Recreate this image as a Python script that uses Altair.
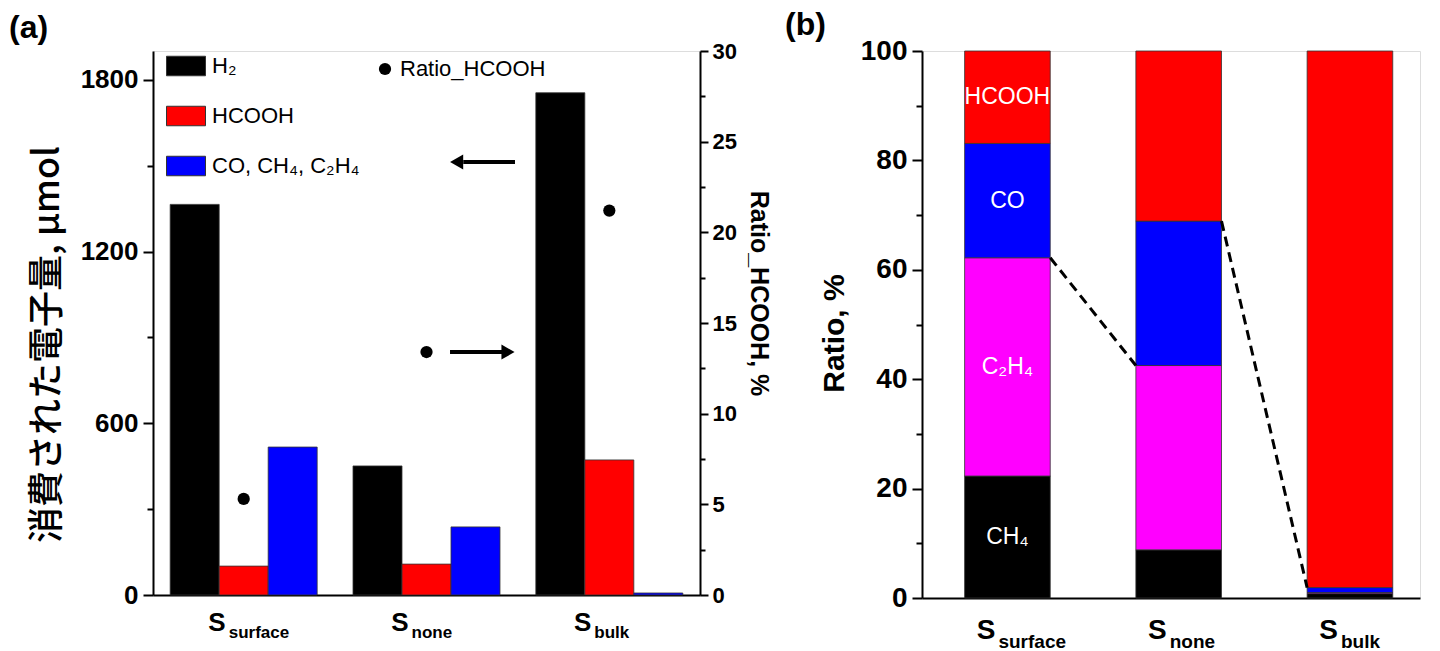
import altair as alt
import pandas as pd

# ---------------- data ----------------
samples = ["S_surface", "S_none", "S_bulk"]
subscripts = ["surface", "none", "bulk"]

series_a = ["H₂", "HCOOH", "CO, CH₄, C₂H₄"]
h2_umol = [1365, 451, 1755]
hcooh_umol = [101, 108, 472]
gas_umol = [517, 238, 7]
ratio_hcooh = [5.3, 13.4, 21.2]
ratio_label = ["Ratio_HCOOH"]

left_ticks = [0, 300, 600, 900, 1200, 1500, 1800]
right_ticks = [0, 2.5, 5, 7.5, 10, 12.5, 15, 17.5, 20, 22.5, 25, 27.5, 30]

comp_b = ["CH₄", "C₂H₄", "CO", "HCOOH"]
ch4_pct = [22.3, 8.8, 0.8]
c2h4_pct = [39.9, 33.7, 0.2]
co_pct = [20.9, 26.4, 0.9]
hcooh_pct = [16.9, 31.1, 98.1]
ratio_ticks = [0, 10, 20, 30, 40, 50, 60, 70, 80, 90, 100]

arrow_left_umol = [1513]

FONT = "Liberation Sans, Arial, sans-serif"
CJK = "Noto Sans CJK JP"
W_A, H_A = 547, 544
W_B, H_B = 498, 547

# ---------------- tables ----------------
rows = []
for i, s in enumerate(samples):
    for ser, vals in zip(series_a, [h2_umol, hcooh_umol, gas_umol]):
        rows.append({"sample": s, "series": ser, "value": vals[i]})
df_a = pd.DataFrame(rows)
df_ratio = pd.DataFrame({"sample": samples, "ratio": ratio_hcooh, "lab": ratio_label * 3})
df_sub = pd.DataFrame({"sample": samples, "sub": subscripts})
df_arrow_l = pd.DataFrame({"sample": ["S_none"], "y": arrow_left_umol})
df_arrow_r = pd.DataFrame({"sample": ["S_none"], "ratio": [ratio_hcooh[1]]})

rows = []
for i, s in enumerate(samples):
    for k, (c, vals) in enumerate(zip(comp_b, [ch4_pct, c2h4_pct, co_pct, hcooh_pct])):
        rows.append({"sample": s, "comp": c, "pct": vals[i], "order": k})
df_b = pd.DataFrame(rows)

cum = 0
lab_rows = []
for c, vals in zip(comp_b, [ch4_pct, c2h4_pct, co_pct, hcooh_pct]):
    lab_rows.append({"sample": samples[0], "comp": c, "mid": cum + vals[0] / 2})
    cum += vals[0]
df_lab = pd.DataFrame(lab_rows)

cum2 = [ch4_pct[i] + c2h4_pct[i] for i in range(3)]
cum3 = [cum2[i] + co_pct[i] for i in range(3)]
df_dash = pd.DataFrame({
    "from": [samples[0], samples[1]],
    "to": [samples[1], samples[2]],
    "y1": [cum2[0], cum3[1]],
    "y2": [cum2[1], cum3[2]],
})

# ---------------- panel (a) ----------------
x_a = alt.X(
    "sample:N", sort=samples,
    scale=alt.Scale(domain=samples, paddingInner=0.196, paddingOuter=0.094),
    axis=alt.Axis(title=None, ticks=False, labelExpr="'S'", labelFont=FONT,
                  labelFontSize=26, labelFontWeight="bold", labelAlign="right",
                  labelOffset=-18, labelPadding=14, labelAngle=0, labelColor="black",
                  domainColor="black", domainWidth=2),
)

bars_a = alt.Chart(df_a).mark_bar(stroke="#333333", strokeWidth=0.8).encode(
    x=x_a,
    xOffset=alt.XOffset("series:N", sort=series_a,
                        scale=alt.Scale(domain=series_a, paddingInner=0, paddingOuter=0)),
    y=alt.Y("value:Q", scale=alt.Scale(domain=[0, 1901], nice=False, zero=True),
            axis=alt.Axis(title="消費された電子量, μmol", values=left_ticks, format="d",
                          labelExpr="datum.value % 600 === 0 ? datum.label : ''",
                          tickSize={"condition": {"test": "datum.value % 600 === 0", "value": 10}, "value": 6},
                          tickWidth=2, tickColor="black", domainColor="black", domainWidth=2,
                          labelFont=FONT, labelFontSize=26, labelFontWeight="bold",
                          labelColor="black", labelPadding=5, labelOverlap=False, grid=False,
                          titleFont=CJK, titleFontSize=36, titleFontWeight=500,
                          titleColor="black", titleAngle=-90, titleX=-106, titleY=293,
                          titleAlign="center", titleBaseline="middle")),
    color=alt.Color("series:N", sort=series_a,
                    scale=alt.Scale(domain=series_a, range=["#000000", "#ff0000", "#0000ff"]),
                    legend=alt.Legend(title=None, orient="none", legendX=13, legendY=-5,
                                      direction="vertical",
                                      symbolType="M-1,-0.5H1V0.5H-1Z", symbolSize=1521,
                                      symbolStrokeColor="#333333", symbolStrokeWidth=1,
                                      labelFont=FONT, labelFontSize=22, labelColor="black",
                                      labelOffset=6, rowPadding=18, padding=0)),
)

sub_a = alt.Chart(df_sub).mark_text(align="left", baseline="alphabetic", dx=-15, font=FONT,
                                    fontSize=17, fontWeight="bold", color="black").encode(
    x=alt.X("sample:N", sort=samples),
    y=alt.value(H_A + 43),
    text="sub:N",
)

arrow_l_line = alt.Chart(df_arrow_l).mark_rule(strokeWidth=4, color="black", x2Offset=15).encode(
    x=alt.X("sample:N", sort=samples, bandPosition=0.75),
    x2=alt.X2("sample", bandPosition=1),
    y=alt.Y("y:Q"),
)
arrow_l_head = alt.Chart(df_arrow_l).mark_point(shape="triangle-left", filled=True, size=230,
                                                color="black", opacity=1).encode(
    x=alt.X("sample:N", sort=samples, bandPosition=0.705),
    y=alt.Y("y:Q"),
)

left_layer = alt.layer(bars_a, sub_a, arrow_l_line, arrow_l_head)

dots = alt.Chart(df_ratio).mark_point(filled=True, color="black", opacity=1, size=150).encode(
    x=alt.X("sample:N", sort=samples),
    y=alt.Y("ratio:Q", scale=alt.Scale(domain=[0, 30], nice=False, zero=True),
            axis=alt.Axis(orient="right", title="Ratio_HCOOH, %", values=right_ticks,
                          labelExpr="datum.value % 5 === 0 ? datum.label : ''",
                          tickSize={"condition": {"test": "datum.value % 5 === 0", "value": 8}, "value": 5},
                          tickWidth=2, tickColor="black", domainColor="black", domainWidth=2,
                          labelFont=FONT, labelFontSize=22, labelFontWeight="bold",
                          labelColor="black", labelPadding=4, labelOverlap=False, grid=False,
                          titleFont=FONT, titleFontSize=25, titleFontWeight="bold",
                          titleColor="black", titleAngle=90, titleX=58, titleY=242,
                          titleAlign="center", titleBaseline="middle")),
    shape=alt.Shape("lab:N", scale=alt.Scale(domain=ratio_label, range=["circle"]),
                    legend=alt.Legend(title=None, orient="none", legendX=221, legendY=7,
                                      symbolSize=150, symbolFillColor="black",
                                      symbolStrokeColor="black",
                                      labelFont=FONT, labelFontSize=22, labelColor="black",
                                      labelOffset=4, padding=0)),
)

arrow_r_line = alt.Chart(df_arrow_r).mark_rule(strokeWidth=4, color="black", x2Offset=6).encode(
    x=alt.X("sample:N", sort=samples, bandPosition=0.66),
    x2=alt.X2("sample", bandPosition=1),
    y=alt.Y("ratio:Q"),
)
arrow_r_head = alt.Chart(df_arrow_r).mark_point(shape="triangle-right", filled=True, size=230,
                                                color="black", opacity=1, xOffset=8).encode(
    x=alt.X("sample:N", sort=samples, bandPosition=1),
    y=alt.Y("ratio:Q"),
)

right_layer = alt.layer(dots, arrow_r_line, arrow_r_head)

panel_a = alt.layer(left_layer, right_layer).resolve_scale(y="independent").properties(
    width=W_A, height=H_A,
    title=alt.TitleParams("(a)", anchor="start", frame="group", dx=-144, offset=-5,
                          font=FONT, fontSize=32, fontWeight="bold", color="black"),
)

# ---------------- panel (b) ----------------
x_b = alt.X(
    "sample:N", sort=samples,
    scale=alt.Scale(domain=samples, paddingInner=0.5, paddingOuter=0.204, align=0.61),
    axis=alt.Axis(title=None, ticks=False, labelExpr="'S'", labelFont=FONT,
                  labelFontSize=28, labelFontWeight="bold", labelAlign="right",
                  labelOffset=-12, labelPadding=18, labelAngle=0, labelColor="black",
                  domainColor="black", domainWidth=2),
)

bars_b = alt.Chart(df_b).mark_bar(stroke="#333333", strokeWidth=0.8).encode(
    x=x_b,
    y=alt.Y("pct:Q", stack="zero", scale=alt.Scale(domain=[0, 100], nice=False),
            axis=alt.Axis(title="Ratio, %", values=ratio_ticks,
                          labelExpr="datum.value % 20 === 0 ? datum.label : ''",
                          tickSize={"condition": {"test": "datum.value % 20 === 0", "value": 10}, "value": 6},
                          tickWidth=2, tickColor="black", domainColor="black", domainWidth=2,
                          labelFont=FONT, labelFontSize=28, labelFontWeight="bold",
                          labelColor="black", labelPadding=5, labelOverlap=False, grid=False,
                          titleFont=FONT, titleFontSize=30, titleFontWeight="bold",
                          titleColor="black", titleAngle=-90, titleX=-88, titleY=282,
                          titleAlign="center", titleBaseline="middle")),
    color=alt.Color("comp:N", scale=alt.Scale(domain=comp_b,
                                              range=["#000000", "#ff00ff", "#0000ff", "#ff0000"]),
                    legend=None),
    order=alt.Order("order:Q"),
)

labels_b = alt.Chart(df_lab).mark_text(color="white", font=FONT, fontSize=23).encode(
    x=alt.X("sample:N", sort=samples),
    y=alt.Y("mid:Q"),
    text="comp:N",
)

dash_b = alt.Chart(df_dash).mark_rule(strokeWidth=3, strokeDash=[10, 6], color="black").encode(
    x=alt.X("from:N", bandPosition=1),
    x2=alt.X2("to", bandPosition=0),
    y=alt.Y("y1:Q"),
    y2=alt.Y2("y2"),
)

sub_b = alt.Chart(df_sub).mark_text(align="left", baseline="alphabetic", dx=-9, font=FONT,
                                    fontSize=19, fontWeight="bold", color="black").encode(
    x=alt.X("sample:N", sort=samples),
    y=alt.value(H_B + 50),
    text="sub:N",
)

panel_b = alt.layer(bars_b, labels_b, dash_b, sub_b).properties(
    width=W_B, height=H_B,
    title=alt.TitleParams("(b)", anchor="start", frame="group", dx=-137, offset=-5,
                          font=FONT, fontSize=32, fontWeight="bold", color="black"),
)

chart = alt.concat(panel_a, panel_b, columns=2, spacing=13, align="none").resolve_scale(
    color="independent", shape="independent"
).properties(
    padding={"left": 0, "top": 0, "right": 0, "bottom": 0}
).configure_view(stroke="black", strokeWidth=2).configure(background="white")

chart.save("out.html", embed_options={"renderer": "svg", "actions": False})
